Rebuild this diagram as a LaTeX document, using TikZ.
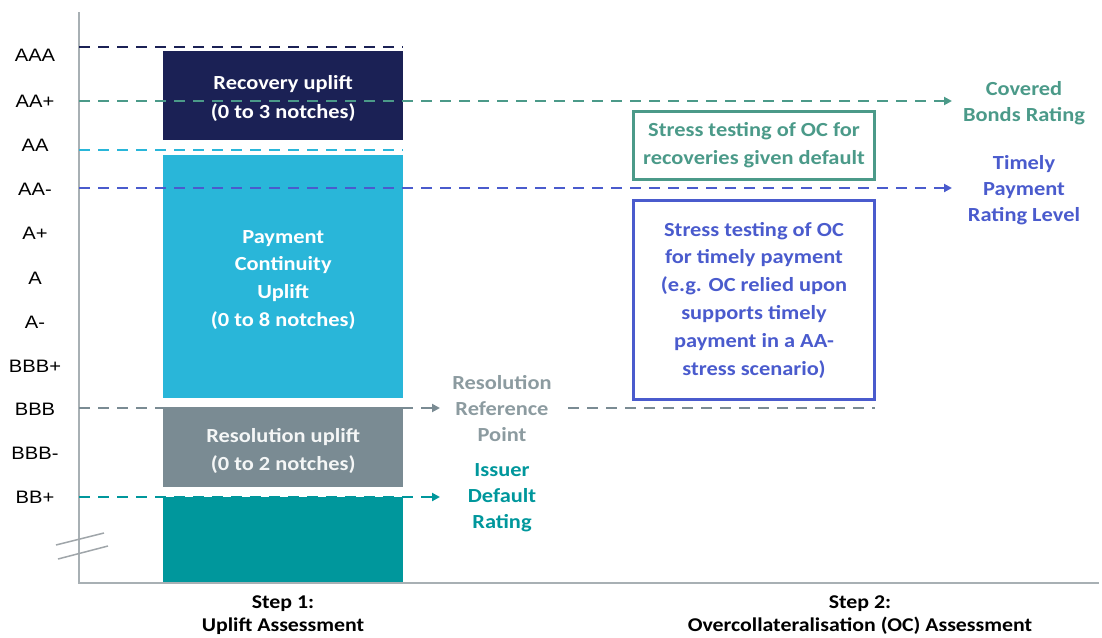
\documentclass[tikz,border=0pt]{standalone}
\usepackage{fontspec}
\setmainfont{Carlito}[FakeStretch=1.12]
\newfontfamily\arialf{Liberation Sans}[FakeStretch=1.12]
\usetikzlibrary{arrows.meta}
\definecolor{navy}{HTML}{1B2155}
\definecolor{cyanb}{HTML}{29B6D9}
\definecolor{grayb}{HTML}{7A8B93}
\definecolor{grayt}{HTML}{8C9BA0}
\definecolor{tealb}{HTML}{00979C}
\definecolor{greenl}{HTML}{4B9A89}
\definecolor{bluel}{HTML}{4A5BCD}
\definecolor{axisc}{HTML}{A8B0B4}
\tikzset{
  dl/.style={line width=2.4pt, dash pattern=on 11pt off 8pt},
  arr/.style={-{Triangle[length=8pt,width=8pt]}},
  bar/.style={draw=none, minimum width=240pt, inner sep=0pt, anchor=north west},
  rate/.style={font=\arialf\fontsize{18}{20}\selectfont, anchor=center},
  lbl/.style={align=center, font=\fontsize{20}{26}\selectfont\bfseries},
  sbox/.style={line width=3pt, minimum width=241pt, anchor=north west, align=center, inner sep=0pt, font=\fontsize{20}{27.8}\selectfont\bfseries},
}
\begin{document}
\begin{tikzpicture}[x=1pt,y=-1pt]
\useasboundingbox (0,0) rectangle (1102,637);
% bars
\node[bar, fill=navy, minimum height=89pt] (rec) at (163,51) {};
\node[bar, fill=cyanb, minimum height=243pt] (pay) at (163,155) {};
\node[bar, fill=grayb, minimum height=80pt] (res) at (163,407) {};
\node[bar, fill=tealb, minimum height=86pt] (iss) at (163,497) {};
\node[lbl, text=white, font=\fontsize{20}{28.5}\selectfont\bfseries] (rect) at ([yshift=-3pt]rec.center) {Recovery uplift\\(0 to 3 notches)};
\node[lbl, text=white, font=\fontsize{20}{27.7}\selectfont\bfseries] (payt) at ([yshift=-3pt]pay.center) {Payment\\Continuity\\Uplift\\(0 to 8 notches)};
\node[lbl, text=white!92!grayb, font=\fontsize{20}{28.5}\selectfont\bfseries] (rest) at ([yshift=-4pt]res.center) {Resolution uplift\\(0 to 2 notches)};
% axes
\coordinate (o) at (79,583);
\coordinate (top) at (79,12);
\coordinate (xe) at (1099,583);
\draw[axisc, line width=2pt] (top) -- (o) -- (xe);
% break marks
\coordinate (b1a) at (56,545); \coordinate (b1b) at (104,533);
\coordinate (b2a) at (58,559); \coordinate (b2b) at (108,546);
\draw[axisc!80!gray, line width=1.5pt] (b1a) -- (b1b);
\draw[axisc!80!gray, line width=1.5pt] (b2a) -- (b2b);
% rating labels
\foreach \t/\yy in {AAA/55,AA+/101,AA/145,AA-/189,A+/233,A/278,A-/322,BBB+/366,BBB/409,BBB-/453,BB+/497}
  \node[rate] at (35,\yy) {\t};
% right labels
\node[lbl, text=greenl] (cbr) at (1024,103) {Covered\\Bonds Rating};
\node[lbl, text=bluel] (tpr) at (1024,190) {Timely\\Payment\\Rating Level};
\node[lbl, text=grayt] (rrp) at (502,408.5) {Resolution\\Reference\\Point};
\node[lbl, text=tealb] (idr) at (502,497.5) {Issuer\\Default\\Rating};
% dashed lines
\coordinate (aaa0) at (79,47); \coordinate (aaa1) at (403,47);
\draw[dl, navy] (aaa0) -- (aaa1);
\coordinate (aap0) at (79,101); \coordinate (aap1) at (952,101);
\draw[dl, greenl, arr] (aap0) -- (aap1);
\coordinate (aa0) at (79,150); \coordinate (aa1) at (403,150);
\draw[dl, cyanb] (aa0) -- (aa1);
\coordinate (aam0) at (79,188); \coordinate (aam1) at (952,188);
\draw[dl, bluel, arr] (aam0) -- (aam1);
\coordinate (bbb0) at (79,408); \coordinate (bbb1) at (440,408);
\draw[dl, grayb, arr] (bbb0) -- (bbb1);
\coordinate (bbb2) at (568,408); \coordinate (bbb3) at (875,408);
\draw[dl, grayb] (bbb2) -- (bbb3);
\coordinate (bb0) at (79,497); \coordinate (bb1) at (440,497);
\draw[dl, tealb, arr] (bb0) -- (bb1);
% stress boxes
\node[sbox, draw=greenl, text=greenl, minimum height=68pt] (g) at (632,110) {Stress testing of OC for\\recoveries given default};
\node[sbox, draw=bluel, text=bluel, minimum height=199pt] (b) at (632,199) {Stress testing of OC\\for timely payment\\(e.g. OC relied upon\\supports timely\\payment in a AA-\\stress scenario)};
% steps
\node[lbl, text=black, font=\fontsize{19.5}{23}\selectfont\bfseries] (s1) at (283,615.5) {Step 1:\\Uplift Assessment};
\node[lbl, text=black, font=\fontsize{19.5}{23}\selectfont\bfseries] (s2) at (860,615.5) {Step 2:\\Overcollateralisation (OC) Assessment};
\end{tikzpicture}
\end{document}
